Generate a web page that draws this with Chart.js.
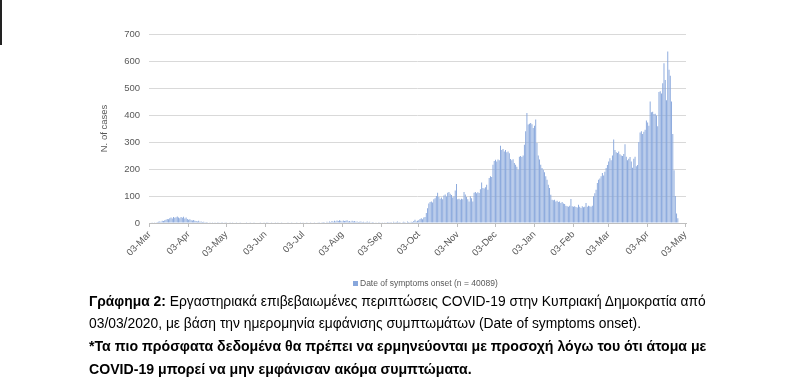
<!DOCTYPE html>
<html><head><meta charset="utf-8">
<script src="https://cdn.jsdelivr.net/npm/chart.js@4.4.1/dist/chart.umd.min.js"></script>
<style>
html,body{margin:0;padding:0;background:#fff;}
body{width:800px;height:388px;position:relative;overflow:hidden;font-family:"Liberation Sans",Arial,sans-serif;}
#wrap{position:absolute;left:0;top:0;width:800px;height:300px;}
.cap{position:absolute;left:89px;white-space:nowrap;color:#000;line-height:16px;font-size:12px;}
.b{font-weight:bold;}
#edge{position:absolute;left:0;top:0;width:2px;height:45px;background:#222;}
</style></head><body>
<div id="edge"></div>
<div id="wrap"><canvas id="c" width="800" height="300"></canvas></div>
<div class="cap" id="l1" style="top:293px"><b>Γράφημα 2:</b> Εργαστηριακά επιβεβαιωμένες περιπτώσεις COVID-19 στην Κυπριακή Δημοκρατία από</div>
<div class="cap" id="l2" style="top:315px">03/03/2020, με βάση την ημερομηνία εμφάνισης συμπτωμάτων (Date of symptoms onset).</div>
<div class="cap b" id="l3" style="top:338px">*Τα πιο πρόσφατα δεδομένα θα πρέπει να ερμηνεύονται με προσοχή λόγω του ότι άτομα με</div>
<div class="cap b" id="l4" style="top:361px">COVID-19 μπορεί να μην εμφάνισαν ακόμα συμπτώματα.</div>
<script>
// ---- data ----
const startDate = [2020, 2, 3];        // 03-Mar-2020 (month is 0-based)
const endDate = [2021, 4, 3];          // 03-May-2021 (axis end)
const seriesLabel = 'Date of symptoms onset (n = 40089)';
const yTicks = [0, 100, 200, 300, 400, 500, 600, 700];
const monthNames = ['Jan','Feb','Mar','Apr','May','Jun','Jul','Aug','Sep','Oct','Nov','Dec'];
// daily cases by date of symptom onset, from 03-Mar-2020
const cases = [
0,0,1,2,3,2,4,5,6,5,
8,7,10,12,15,14,18,20,17,22,
19,21,24,20,18,22,19,23,17,20,
15,12,14,10,9,11,8,7,6,8,
5,6,4,5,3,4,3,2,3,2,
1,2,1,2,1,1,0,1,1,0,
1,
1,0,2,1,0,1,0,0,1,0,
0,1,0,0,2,0,1,0,0,1,
0,0,1,0,0,0,2,1,0,0,
1,0,3,1,0,2,1,0,0,1,
0,1,0,0,1,0,0,2,0,1,
0,0,1,0,0,0,1,0,2,1,
0,1,0,0,1,2,0,1,0,0,
1,0,2,1,3,2,1,4,3,2,
5,3,6,4,7,5,8,6,9,7,
10,8,6,9,7,8,10,6,7,5,
8,6,7,5,6,4,5,6,4,5,
3,4,6,3,5,2,4,3,2,3,
2,1,3,2,1,2,3,2,4,3,
3,4,2,5,3,4,6,3,4,2,
3,5,4,2,6,4,3,5,4,7,
12,6,8,10,15,18,14,20,22,37,
55,72,78,80,76,88,92,100,112,96,
90,94,88,102,106,98,112,115,108,104,
94,98,120,144,88,90,86,90,88,115,
106,96,88,80,99,92,80,112,115,110,
114,111,125,150,130,128,132,142,123,167,
173,170,216,230,234,228,235,232,286,270,
274,265,270,262,265,258,237,232,236,222,
216,208,197,245,248,244,250,290,340,407,
365,368,370,366,352,360,383,296,250,235,
216,204,197,188,173,160,142,130,105,86,
84,86,80,82,78,80,74,78,72,70,
64,62,60,64,89,62,60,62,59,57,
68,60,56,62,58,60,74,60,64,62,
60,64,99,110,123,148,160,165,173,185,
176,190,204,215,228,240,232,250,309,270,
262,259,265,255,250,248,256,292,245,232,
238,244,228,205,238,245,210,215,300,335,
340,330,338,345,380,372,360,450,410,412,
404,405,398,358,485,488,480,518,592,530,
455,635,568,545,450,330,195,100,35,18
];

// ---- categories (one per day) ----
const categories = [];
{
  const d = new Date(Date.UTC(startDate[0], startDate[1], startDate[2]));
  const e = new Date(Date.UTC(endDate[0], endDate[1], endDate[2]));
  while (d <= e) {
    const dd = String(d.getUTCDate()).padStart(2, '0');
    categories.push(dd + '-' + monthNames[d.getUTCMonth()]);
    d.setUTCDate(d.getUTCDate() + 1);
  }
}

const barColor = '#88a7dc';
const textGray = '#595959';

const legendPlugin = {
  id: 'customLegend',
  afterDraw(chart) {
    const ctx = chart.ctx;
    const ds = chart.data.datasets[0];
    ctx.save();
    ctx.fillStyle = ds.backgroundColor;
    ctx.fillRect(353, 281, 5, 5);
    ctx.font = '8.5px "Liberation Sans"';
    ctx.fillStyle = textGray;
    ctx.textBaseline = 'middle';
    ctx.textAlign = 'left';
    ctx.fillText(ds.label, 360, 284);
    ctx.restore();
  }
};

Chart.defaults.font.family = '"Liberation Sans", Arial, sans-serif';

new Chart(document.getElementById('c'), {
  type: 'bar',
  data: {
    labels: categories,
    datasets: [{
      label: seriesLabel,
      data: cases,
      backgroundColor: barColor,
      borderWidth: 0,
      barPercentage: 0.75,
      categoryPercentage: 1.0
    }]
  },
  options: {
    responsive: false,
    animation: false,
    devicePixelRatio: 1,
    layout: { padding: { left: 95, right: 114, top: 34, bottom: 27 } },
    plugins: { legend: { display: false }, tooltip: { enabled: false } },
    scales: {
      x: {
        type: 'category',
        offset: true,
        afterBuildTicks: (scale) => {
          scale.ticks = scale.ticks.filter(t => categories[t.value].startsWith('03-'));
        },
        afterFit: (scale) => { scale.height = 50; },
        grid: { display: true, drawOnChartArea: false, drawTicks: true, tickLength: 4, offset: false, color: '#bfbfbf' },
        border: { display: true, color: '#bfbfbf' },
        ticks: {
          autoSkip: false, minRotation: 45, maxRotation: 45, padding: 2,
          color: textGray, font: { size: 9.5 },
          callback: function (v) { return this.getLabelForValue(v); }
        }
      },
      y: {
        min: 0, max: 700,
        afterBuildTicks: (scale) => { scale.ticks = yTicks.map(v => ({ value: v })); },
        afterFit: (scale) => { scale.width = 54; },
        grid: { color: '#d9d9d9', drawTicks: false, lineWidth: 1 },
        border: { display: false },
        ticks: { color: textGray, font: { size: 9.5 }, padding: 9 },
        title: { display: true, text: 'N. of cases', color: textGray, font: { size: 9.5 }, padding: { top: 4, bottom: 4 } }
      }
    }
  },
  plugins: [legendPlugin]
});

// fit caption lines to the reference widths
function fit(refId, ids, target) {
  const el = document.getElementById(refId);
  const w = el.getBoundingClientRect().width;
  const fs = 12 * target / w;
  ids.forEach(id => { document.getElementById(id).style.fontSize = fs + 'px'; });
}
fit('l1', ['l1', 'l2'], 617);
fit('l3', ['l3', 'l4'], 618);
</script>
</body></html>
